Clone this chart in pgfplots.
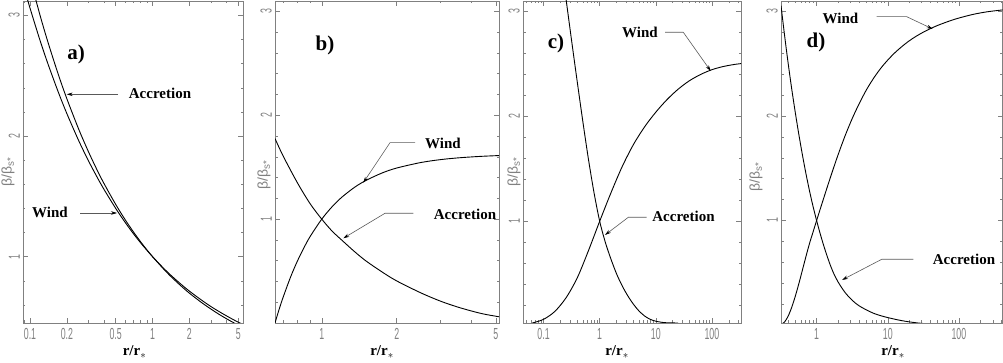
\documentclass[border=0pt]{standalone}
\usepackage{fontspec}
\setmainfont{Liberation Serif}
\newfontfamily\tickfont[FakeStretch=0.55]{Liberation Sans}
\newfontfamily\labfont{Liberation Sans}
\usepackage{pgfplots}
\pgfplotsset{compat=1.18}
\usetikzlibrary{arrows.meta}

\pgfplotsset{
  mypanel/.style={
    scale only axis, anchor=south west,
    axis line style={gray, line width=0.6pt},
    tick style={gray, line width=0.5pt},
    major tick length=5pt, minor tick length=2.5pt,
    ytick={1,2,3}, yticklabels={1,2,3},
    minor ytick={0.2,0.4,0.6,0.8,1.2,1.4,1.6,1.8,2.2,2.4,2.6,2.8},
    tick label style={font=\tickfont\fontsize{16}{16}\selectfont, text=gray},
    xticklabel style={anchor=north, inner sep=0pt, yshift=-5pt},
    yticklabel style={xshift=-3pt, rotate=90, anchor=south, inner sep=0pt},
    clip mode=individual,
  },
  mycurve/.style={black, line width=0.9pt, no marks, smooth},
}
\tikzset{
  lbl/.style={font=\bfseries\fontsize{15}{15}\selectfont},
  tag/.style={font=\bfseries\fontsize{21}{21}\selectfont},
  ylab/.style={font=\labfont\fontsize{14}{14}\selectfont, text=gray, rotate=90},
  pointer/.style={gray!70!black, line width=0.6pt, -{Stealth[length=6pt, width=3.5pt, black]}},
}

\begin{document}
\begin{tikzpicture}[x=1pt,y=1pt]
\path[use as bounding box] (0,0) rectangle (1003,363);

% a)
\begin{axis}[mypanel, xmode=log, at={(23pt,40pt)}, width=220pt, height=322pt,
  xmin=0.0877, xmax=5.47, ymin=0.45, ymax=3.12,
  xtick={0.1,0.2,0.5,1,2,5}, xticklabels={0.1,0.2,0.5,1,2,5},
  minor xtick={0.09,0.3,0.4,0.6,0.7,0.8,0.9,3,4}]
\addplot[mycurve] coordinates {(0.09,3.223)(0.1,3.062)(0.12,2.802)(0.14,2.600)(0.17,2.366)(0.2,2.186)(0.25,1.961)(0.3,1.795)(0.35,1.666)(0.4,1.561)(0.5,1.401)(0.6,1.282)(0.7,1.189)(0.8,1.114)(0.9,1.053)(1,1)(1.2,0.915)(1.4,0.849)(1.7,0.773)(2,0.714)(2.5,0.641)(3,0.586)(3.5,0.544)(4,0.510)(4.5,0.481)(5,0.457)(5.5,0.437)};
\addplot[mycurve] coordinates {(0.1,3.311)(0.12,3.012)(0.14,2.780)(0.17,2.513)(0.2,2.309)(0.25,2.056)(0.3,1.870)(0.35,1.726)(0.4,1.610)(0.5,1.434)(0.6,1.304)(0.7,1.204)(0.8,1.123)(0.9,1.056)(1,1)(1.2,0.910)(1.4,0.839)(1.7,0.759)(2,0.697)(2.5,0.621)(3,0.565)(3.5,0.521)(4,0.486)(4.5,0.457)(5,0.433)(5.5,0.412)};
\end{axis}

% b)
\begin{axis}[mypanel, xmode=log, at={(275pt,40pt)}, width=224pt, height=322pt,
  xmin=0.649, xmax=5.15, ymin=0, ymax=3.1,
  xtick={1,2,5}, xticklabels={1,2,5},
  minor xtick={0.7,0.8,0.9,3,4}]
\addplot[mycurve] coordinates {(0.649,0)(0.66,0.059)(0.68,0.159)(0.7,0.249)(0.75,0.444)(0.8,0.601)(0.85,0.729)(0.9,0.836)(1,1)(1.1,1.119)(1.2,1.208)(1.35,1.304)(1.5,1.371)(1.75,1.445)(2,1.492)(2.5,1.545)(3,1.573)(3.5,1.589)(4,1.599)(4.5,1.606)(5.15,1.612)};
\addplot[mycurve] coordinates {(0.649,1.776)(0.7,1.607)(0.8,1.346)(0.9,1.145)(1,1)(1.1,0.885)(1.22,0.785)(1.35,0.69)(1.5,0.60)(1.75,0.49)(2,0.405)(2.5,0.29)(3,0.21)(3.5,0.155)(4,0.115)(4.5,0.085)(5.15,0.06)};
\end{axis}

% c)
\begin{axis}[mypanel, xmode=log, at={(523pt,40pt)}, width=218pt, height=322pt,
  xmin=0.043, xmax=330, ymin=0.03, ymax=3.1,
  xtick={0.1,1,10,100}, xticklabels={0.1,1,10,100},
  minor xtick={0.05,0.06,0.07,0.08,0.09,0.2,0.3,0.4,0.5,0.6,0.7,0.8,0.9,2,3,4,5,6,7,8,9,20,30,40,50,60,70,80,90,200,300}]
\addplot[mycurve] coordinates {(0.0631,0.03)(0.1,0.065)(0.1585,0.14)(0.2512,0.27)(0.3981,0.46)(0.631,0.72)(1,1)(1.585,1.27)(2.512,1.52)(3.981,1.73)(6.31,1.9)(10,2.04)(15.85,2.16)(25.12,2.26)(39.81,2.34)(63.1,2.40)(100,2.445)(158.5,2.475)(251.2,2.495)(355,2.505)};
\addplot[mycurve] coordinates {(0.2512,3.12)(0.3162,2.72)(0.3981,2.33)(0.5012,1.95)(0.631,1.59)(0.7943,1.27)(1,1)(1.259,0.80)(1.585,0.64)(1.995,0.50)(2.512,0.385)(3.162,0.29)(3.981,0.21)(5.012,0.145)(6.31,0.097)(7.943,0.065)(10,0.047)(12.59,0.037)(15.85,0.032)(25,0.03)};
\end{axis}

% d)
\begin{axis}[mypanel, xmode=log, at={(781pt,40pt)}, width=221.5pt, height=322pt,
  xmin=0.316, xmax=410, ymin=0.02, ymax=3.1,
  xtick={1,10,100}, xticklabels={1,10,100},
  minor xtick={0.4,0.5,0.6,0.7,0.8,0.9,2,3,4,5,6,7,8,9,20,30,40,50,60,70,80,90,200,300,400}]
\addplot[mycurve] coordinates {(0.3162,0.005)(0.3548,0.03)(0.3981,0.085)(0.4467,0.17)(0.5012,0.275)(0.5623,0.395)(0.631,0.525)(0.7079,0.655)(0.7943,0.78)(0.8913,0.89)(1,1)(1.259,1.215)(1.585,1.425)(1.995,1.625)(2.512,1.81)(3.162,1.975)(3.981,2.12)(5.012,2.25)(6.31,2.36)(7.943,2.455)(10,2.535)(12.59,2.605)(15.85,2.665)(19.95,2.718)(25.12,2.763)(31.62,2.802)(39.81,2.836)(50.12,2.866)(63.1,2.892)(79.43,2.916)(100,2.937)(158.5,2.972)(251.2,2.997)(416.9,3.015)};
\addplot[mycurve] coordinates {(0.3162,3.055)(0.3548,2.77)(0.3981,2.505)(0.4467,2.26)(0.5012,2.035)(0.5623,1.825)(0.631,1.63)(0.7079,1.45)(0.7943,1.285)(0.8913,1.135)(1,1)(1.122,0.875)(1.259,0.76)(1.413,0.655)(1.585,0.56)(1.778,0.48)(1.995,0.415)(2.239,0.36)(2.512,0.312)(2.818,0.272)(3.162,0.238)(3.548,0.208)(3.981,0.183)(5.012,0.145)(6.31,0.113)(7.943,0.09)(10,0.072)(12.59,0.056)(15.85,0.042)(19.95,0.031)(25.12,0.022)(31.62,0.015)(39.81,0.01)(63.1,0.004)(100,0.002)};
\end{axis}

% axis titles
\foreach \xx in {134.5,382,617,893} \node[lbl] at (\xx,11) {r/r$_{*}$};
\node[ylab] at (8,191) {β/β\textsubscript{s*}};
\node[ylab] at (264,188) {β/β\textsubscript{s*}};
\node[ylab] at (514,191) {β/β\textsubscript{s*}};
\node[ylab] at (756,186) {β/β\textsubscript{s*}};

% panel tags
\node[tag] at (76,309) {a)};
\node[tag] at (325,318) {b)};
\node[tag] at (556,320) {c)};
\node[tag] at (816,321) {d)};

% annotations
\node[lbl] at (160,269.5) {Accretion};
\draw[pointer] (118,268.7) -- (66.7,268.7);
\node[lbl] at (50,151) {Wind};
\draw[pointer] (80,150) -- (117,150);

\node[lbl] at (443,220) {Wind};
\draw[pointer] (415,220.3) -- (390,220.3) -- (363.3,180.3);
\node[lbl] at (465,149) {Accretion};
\draw[pointer] (413.3,149.7) -- (385,149.7) -- (343.3,124.7);

\node[lbl] at (640,330.7) {Wind};
\draw[pointer] (665,330.7) -- (683.3,330.7) -- (710.7,292);
\node[lbl] at (683.5,146.3) {Accretion};
\draw[pointer] (646.7,145.7) -- (628.3,145.7) -- (605,128);

\node[lbl] at (840.5,344.7) {Wind};
\draw[pointer] (876.7,346.3) -- (906.7,346.3) -- (932.7,334);
\node[lbl] at (964,103.7) {Accretion};
\draw[pointer] (913.3,103.7) -- (881.7,103.7) -- (842,83);
\end{tikzpicture}
\end{document}
